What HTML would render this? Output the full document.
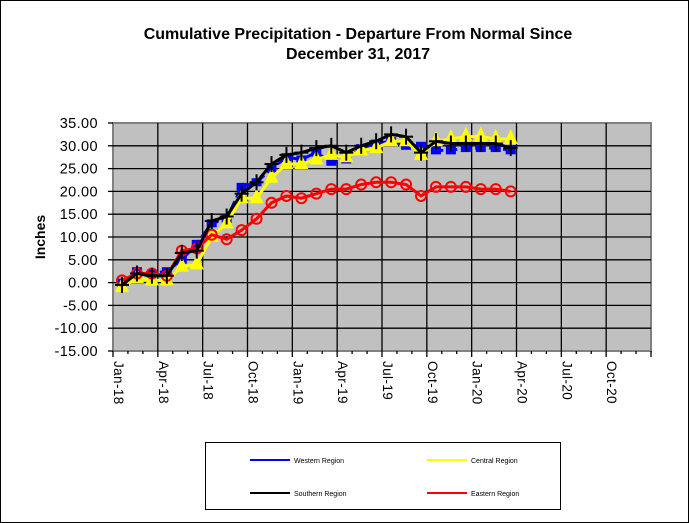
<!DOCTYPE html><html><head><style>body{margin:0;background:#fff}svg{display:block;font-family:"Liberation Sans",Arial,sans-serif}</style></head><body>
<svg width="689" height="523" viewBox="0 0 689 523">
<rect x="0.5" y="0.5" width="688" height="522" fill="#fff" stroke="#000"/>
<text x="358" y="39" font-size="16" font-weight="bold" text-anchor="middle">Cumulative Precipitation - Departure From Normal Since</text>
<text x="358" y="59" font-size="16" font-weight="bold" text-anchor="middle">December 31, 2017</text>
<rect x="113" y="123" width="538" height="228" fill="#c0c0c0" stroke="#808080" stroke-width="2"/>
<g id="grid" stroke="#000" stroke-width="1.3"></g>
<g id="lab" font-size="14.5" letter-spacing="0.4"></g>
<text transform="translate(45,237) rotate(-90)" font-size="14" font-weight="bold" text-anchor="middle">Inches</text>
<g id="ser"></g>
<rect x="205.5" y="442.5" width="355" height="67" fill="#fff" stroke="#000"/>
<g font-size="7">
<line x1="250" y1="460" x2="290" y2="460" stroke="#00f" stroke-width="2"/><text x="294" y="463">Western Region</text>
<line x1="427" y1="460" x2="467" y2="460" stroke="#ff0" stroke-width="2"/><text x="471" y="463">Central Region</text>
<line x1="250" y1="493" x2="290" y2="493" stroke="#000" stroke-width="2"/><text x="294" y="496">Southern Region</text>
<line x1="427" y1="493" x2="467" y2="493" stroke="#f00" stroke-width="2"/><text x="471" y="496">Eastern Region</text>
</g>
</svg>
<script>
const NS="http://www.w3.org/2000/svg";
function el(p,t,a){const e=document.createElementNS(NS,t);for(const k in a)e.setAttribute(k,a[k]);document.getElementById(p).appendChild(e);return e;}
const X0=113,XW=538/12,Y=v=>123+(35-v)*228/50;
for(let i=1;i<12;i++)el("grid","line",{x1:X0+i*XW,y1:123,x2:X0+i*XW,y2:351});
for(let v=30;v>-15;v-=5)el("grid","line",{x1:113,y1:Y(v),x2:651,y2:Y(v)});
for(let v=35;v>=-15;v-=5){el("grid","line",{x1:108,y1:Y(v),x2:113,y2:Y(v)});const t=el("lab","text",{x:98,y:Y(v)+5,"text-anchor":"end"});t.textContent=v.toFixed(2);}
const m=["Jan","Apr","Jul","Oct"];
for(let i=0;i<=36;i++){const x=X0+i*XW/3;el("grid","line",{x1:x,y1:351,x2:x,y2:i%3?354:357});}
for(let i=0;i<12;i++){const x=X0+i*XW;
const t=el("lab","text",{transform:`translate(${x+1},361) rotate(90)`,"font-size":"13.5"});t.textContent=m[i%4]+"-"+(18+Math.floor(i/4));}
const S={
b:[0,2.5,2,2.5,5,8.5,13,14,21,22,25,27.5,27,28.5,26.5,27,29.5,30.5,31,30,30,29,29,29.5,29.5,29.5,29],
y:[-1,1,0.5,0.5,3.5,4,10,13,18.5,18.5,23,26,26,27,28,27.5,29,29.5,31,31,28,31,31.5,32,32,31.5,31.5],
r:[0.5,2,2,1.5,7,7.5,10.5,9.5,11.5,14,17.5,19,18.5,19.5,20.5,20.5,21.5,22,22,21.5,19,21,21,21,20.5,20.5,20],
k:[-0.5,2,1.5,1.5,6.5,7,13.5,14.5,19.5,22,26,28,28.5,29.5,30,28.5,30,31,32.5,32,28.5,31,30.5,30.5,30.5,30.5,29.5]};
const PX=i=>122+i*14.95;
function pts(a){return a.map((v,i)=>PX(i)+","+Y(v)).join(" ");}
el("ser","polyline",{points:pts(S.b),fill:"none",stroke:"#00f","stroke-width":3,"stroke-dasharray":"10,4"});
S.b.forEach((v,i)=>el("ser","rect",{x:PX(i)-5,y:Y(v)-4,width:10,height:8,fill:"#00f"}));
el("ser","polyline",{points:pts(S.y),fill:"none",stroke:"#ff0","stroke-width":3});
S.y.forEach((v,i)=>el("ser","polygon",{points:`${PX(i)},${Y(v)-10} ${PX(i)-7},${Y(v)+5} ${PX(i)+7},${Y(v)+5}`,fill:"#ff0"}));
el("ser","polyline",{points:pts(S.r),fill:"none",stroke:"#f00","stroke-width":3});
S.r.forEach((v,i)=>el("ser","circle",{cx:PX(i),cy:Y(v),r:5,fill:"none",stroke:"#f00","stroke-width":2}));
el("ser","polyline",{points:pts(S.k),fill:"none",stroke:"#000","stroke-width":3});
S.k.forEach((v,i)=>{el("ser","line",{x1:PX(i),y1:Y(v)-8,x2:PX(i),y2:Y(v)+8,stroke:"#000","stroke-width":2});el("ser","line",{x1:PX(i)-7,y1:Y(v),x2:PX(i)+7,y2:Y(v),stroke:"#000","stroke-width":2});});
</script>
</body></html>
